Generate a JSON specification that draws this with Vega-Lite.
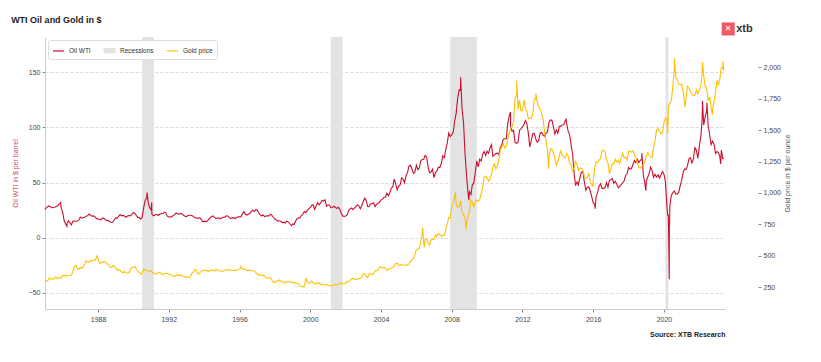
{
"$schema": "https://vega.github.io/schema/vega-lite/v6.json",
"width": 680, "height": 272,
"autosize": {"type": "none"},
"padding": {"left": 45, "top": 37, "right": 96, "bottom": 53},
"background": "white",
"config": {"font": "Liberation Sans", "view": {"stroke": null},
  "axis": {"labelFontSize": 7, "labelColor": "#444", "tickColor": "#888", "domainColor": "#ccc", "titleFontWeight": "normal", "titleFontSize": 7}},
"title": {"text": "WTI Oil and Gold in $", "anchor": "start", "fontSize": 9, "fontWeight": "bold", "color": "#222", "offset": -3},
"datasets": {
"oil": [
{"d":"1985-01","v":25.6},{"d":"1985-02","v":27.3},{"d":"1985-03","v":28.2},{"d":"1985-04","v":28.8},{"d":"1985-05","v":27.9},{"d":"1985-06","v":27.2},{"d":"1985-07","v":27.3},{"d":"1985-08","v":27.8},{"d":"1985-09","v":28.3},{"d":"1985-10","v":29.5},{"d":"1985-11","v":30.8},{"d":"1985-11-20","v":31.8},{"d":"1985-12","v":27.2},
{"d":"1986-01","v":22.9},{"d":"1986-02","v":15.4},{"d":"1986-03","v":12.6},{"d":"1986-03-31","v":10.4},{"d":"1986-04","v":12.8},{"d":"1986-05","v":15.4},{"d":"1986-06","v":13.5},{"d":"1986-07","v":11.6},{"d":"1986-08","v":15.1},{"d":"1986-09","v":14.9},{"d":"1986-10","v":14.9},{"d":"1986-11","v":15.2},{"d":"1986-12","v":16.1},
{"d":"1987-01","v":18.7},{"d":"1987-02","v":17.7},{"d":"1987-03","v":18.3},{"d":"1987-04","v":18.6},{"d":"1987-05","v":19.4},{"d":"1987-06","v":20.0},{"d":"1987-07","v":21.4},{"d":"1987-08","v":20.3},{"d":"1987-09","v":19.5},{"d":"1987-10","v":19.8},{"d":"1987-11","v":18.9},{"d":"1987-12","v":17.3},
{"d":"1988-01","v":17.1},{"d":"1988-02","v":16.7},{"d":"1988-03","v":16.2},{"d":"1988-04","v":17.9},{"d":"1988-05","v":17.4},{"d":"1988-06","v":16.5},{"d":"1988-07","v":15.5},{"d":"1988-08","v":15.5},{"d":"1988-09","v":14.5},{"d":"1988-10","v":13.8},{"d":"1988-11","v":14.0},{"d":"1988-12","v":16.3},
{"d":"1989-01","v":18.0},{"d":"1989-02","v":17.8},{"d":"1989-03","v":19.4},{"d":"1989-04","v":21.0},{"d":"1989-05","v":20.0},{"d":"1989-06","v":20.0},{"d":"1989-07","v":19.6},{"d":"1989-08","v":18.5},{"d":"1989-09","v":19.6},{"d":"1989-10","v":20.1},{"d":"1989-11","v":19.8},{"d":"1989-12","v":21.1},
{"d":"1990-01","v":22.9},{"d":"1990-02","v":22.1},{"d":"1990-03","v":20.4},{"d":"1990-04","v":18.4},{"d":"1990-05","v":18.2},{"d":"1990-06","v":16.9},{"d":"1990-07","v":18.6},{"d":"1990-08","v":27.2},{"d":"1990-09","v":33.7},{"d":"1990-10","v":35.9},{"d":"1990-10-11","v":41.0},{"d":"1990-11","v":32.3},{"d":"1990-12","v":27.3},
{"d":"1991-01","v":25.2},{"d":"1991-01-14","v":32.0},{"d":"1991-01-17","v":21.4},{"d":"1991-02","v":20.5},{"d":"1991-03","v":19.9},{"d":"1991-04","v":20.8},{"d":"1991-05","v":21.2},{"d":"1991-06","v":20.2},{"d":"1991-07","v":21.4},{"d":"1991-08","v":21.7},{"d":"1991-09","v":21.9},{"d":"1991-10","v":23.2},{"d":"1991-11","v":22.5},{"d":"1991-12","v":19.5},
{"d":"1992-01","v":18.8},{"d":"1992-02","v":19.0},{"d":"1992-03","v":18.9},{"d":"1992-04","v":20.2},{"d":"1992-05","v":20.9},{"d":"1992-06","v":22.4},{"d":"1992-07","v":21.8},{"d":"1992-08","v":21.4},{"d":"1992-09","v":21.9},{"d":"1992-10","v":21.7},{"d":"1992-11","v":20.3},{"d":"1992-12","v":19.4},
{"d":"1993-01","v":19.1},{"d":"1993-02","v":20.1},{"d":"1993-03","v":20.3},{"d":"1993-04","v":20.3},{"d":"1993-05","v":19.9},{"d":"1993-06","v":19.1},{"d":"1993-07","v":17.9},{"d":"1993-08","v":18.0},{"d":"1993-09","v":17.5},{"d":"1993-10","v":18.1},{"d":"1993-11","v":16.7},{"d":"1993-12","v":14.5},
{"d":"1994-01","v":15.0},{"d":"1994-02","v":14.8},{"d":"1994-03","v":14.7},{"d":"1994-04","v":16.4},{"d":"1994-05","v":17.9},{"d":"1994-06","v":19.1},{"d":"1994-07","v":19.7},{"d":"1994-08","v":18.4},{"d":"1994-09","v":17.5},{"d":"1994-10","v":17.7},{"d":"1994-11","v":18.1},{"d":"1994-12","v":17.2},
{"d":"1995-01","v":18.0},{"d":"1995-02","v":18.5},{"d":"1995-03","v":18.6},{"d":"1995-04","v":19.9},{"d":"1995-05","v":19.7},{"d":"1995-06","v":18.4},{"d":"1995-07","v":17.3},{"d":"1995-08","v":18.0},{"d":"1995-09","v":18.2},{"d":"1995-10","v":17.4},{"d":"1995-11","v":18.0},{"d":"1995-12","v":19.0},
{"d":"1996-01","v":18.9},{"d":"1996-02","v":19.1},{"d":"1996-03","v":21.4},{"d":"1996-04","v":23.6},{"d":"1996-05","v":21.2},{"d":"1996-06","v":20.4},{"d":"1996-07","v":21.3},{"d":"1996-08","v":21.9},{"d":"1996-09","v":23.9},{"d":"1996-10","v":24.9},{"d":"1996-11","v":23.7},{"d":"1996-12","v":25.4},
{"d":"1997-01","v":25.2},{"d":"1997-02","v":22.2},{"d":"1997-03","v":21.0},{"d":"1997-04","v":19.7},{"d":"1997-05","v":20.8},{"d":"1997-06","v":19.2},{"d":"1997-07","v":19.6},{"d":"1997-08","v":19.9},{"d":"1997-09","v":19.8},{"d":"1997-10","v":21.3},{"d":"1997-11","v":20.2},{"d":"1997-12","v":18.3},
{"d":"1998-01","v":16.7},{"d":"1998-02","v":16.1},{"d":"1998-03","v":15.0},{"d":"1998-04","v":15.4},{"d":"1998-05","v":14.9},{"d":"1998-06","v":13.7},{"d":"1998-07","v":14.1},{"d":"1998-08","v":13.4},{"d":"1998-09","v":15.0},{"d":"1998-10","v":14.4},{"d":"1998-11","v":12.9},{"d":"1998-12","v":11.3},{"d":"1998-12-10","v":10.8},
{"d":"1999-01","v":12.5},{"d":"1999-02","v":12.0},{"d":"1999-03","v":14.7},{"d":"1999-04","v":17.3},{"d":"1999-05","v":17.8},{"d":"1999-06","v":17.9},{"d":"1999-07","v":20.1},{"d":"1999-08","v":21.3},{"d":"1999-09","v":23.9},{"d":"1999-10","v":22.6},{"d":"1999-11","v":25.0},{"d":"1999-12","v":26.1},
{"d":"2000-01","v":27.2},{"d":"2000-02","v":29.4},{"d":"2000-03","v":29.9},{"d":"2000-04","v":25.7},{"d":"2000-05","v":28.8},{"d":"2000-06","v":31.8},{"d":"2000-07","v":29.7},{"d":"2000-08","v":31.3},{"d":"2000-09","v":33.9},{"d":"2000-10","v":33.1},{"d":"2000-11","v":34.4},{"d":"2000-12","v":28.5},
{"d":"2001-01","v":29.6},{"d":"2001-02","v":29.6},{"d":"2001-03","v":27.2},{"d":"2001-04","v":27.4},{"d":"2001-05","v":28.6},{"d":"2001-06","v":27.6},{"d":"2001-07","v":26.5},{"d":"2001-08","v":27.5},{"d":"2001-09","v":25.9},{"d":"2001-10","v":22.2},{"d":"2001-11","v":19.7},{"d":"2001-12","v":19.3},
{"d":"2002-01","v":19.7},{"d":"2002-02","v":20.7},{"d":"2002-03","v":24.4},{"d":"2002-04","v":26.2},{"d":"2002-05","v":27.0},{"d":"2002-06","v":25.5},{"d":"2002-07","v":26.9},{"d":"2002-08","v":28.4},{"d":"2002-09","v":29.7},{"d":"2002-10","v":28.9},{"d":"2002-11","v":26.3},{"d":"2002-12","v":29.4},
{"d":"2003-01","v":32.9},{"d":"2003-02","v":35.9},{"d":"2003-03","v":33.6},{"d":"2003-04","v":28.3},{"d":"2003-05","v":28.1},{"d":"2003-06","v":30.7},{"d":"2003-07","v":30.8},{"d":"2003-08","v":31.6},{"d":"2003-09","v":28.3},{"d":"2003-10","v":30.3},{"d":"2003-11","v":31.1},{"d":"2003-12","v":32.1},
{"d":"2004-01","v":34.3},{"d":"2004-02","v":34.7},{"d":"2004-03","v":36.7},{"d":"2004-04","v":36.7},{"d":"2004-05","v":40.3},{"d":"2004-06","v":38.0},{"d":"2004-07","v":40.7},{"d":"2004-08","v":44.9},{"d":"2004-09","v":46.0},{"d":"2004-10","v":53.1},{"d":"2004-11","v":48.5},{"d":"2004-12","v":43.3},
{"d":"2005-01","v":46.8},{"d":"2005-02","v":48.0},{"d":"2005-03","v":54.3},{"d":"2005-04","v":53.0},{"d":"2005-05","v":49.8},{"d":"2005-06","v":56.3},{"d":"2005-07","v":58.7},{"d":"2005-08","v":65.0},{"d":"2005-09","v":65.6},{"d":"2005-10","v":62.4},{"d":"2005-11","v":58.3},{"d":"2005-12","v":59.4},
{"d":"2006-01","v":65.5},{"d":"2006-02","v":61.6},{"d":"2006-03","v":62.9},{"d":"2006-04","v":69.7},{"d":"2006-05","v":70.9},{"d":"2006-06","v":71.0},{"d":"2006-07","v":74.4},{"d":"2006-08","v":73.1},{"d":"2006-09","v":63.9},{"d":"2006-10","v":58.9},{"d":"2006-11","v":59.4},{"d":"2006-12","v":62.0},
{"d":"2007-01","v":54.5},{"d":"2007-02","v":59.3},{"d":"2007-03","v":60.4},{"d":"2007-04","v":63.9},{"d":"2007-05","v":63.5},{"d":"2007-06","v":67.5},{"d":"2007-07","v":74.1},{"d":"2007-08","v":72.4},{"d":"2007-09","v":79.9},{"d":"2007-10","v":85.8},{"d":"2007-11","v":94.8},{"d":"2007-12","v":91.7},
{"d":"2008-01","v":93.0},{"d":"2008-02","v":95.4},{"d":"2008-03","v":105.4},{"d":"2008-04","v":112.6},{"d":"2008-05","v":125.4},{"d":"2008-06","v":133.9},{"d":"2008-07","v":133.4},{"d":"2008-07-03","v":145.3},{"d":"2008-08","v":116.7},{"d":"2008-09","v":104.1},{"d":"2008-10","v":76.6},{"d":"2008-11","v":57.3},{"d":"2008-12","v":41.1},{"d":"2008-12-19","v":33.9},
{"d":"2009-01","v":41.7},{"d":"2009-02","v":39.1},{"d":"2009-03","v":47.9},{"d":"2009-04","v":49.6},{"d":"2009-05","v":59.0},{"d":"2009-06","v":69.6},{"d":"2009-07","v":64.2},{"d":"2009-08","v":71.1},{"d":"2009-09","v":69.4},{"d":"2009-10","v":75.7},{"d":"2009-11","v":78.0},{"d":"2009-12","v":74.5},
{"d":"2010-01","v":78.3},{"d":"2010-02","v":76.4},{"d":"2010-03","v":81.2},{"d":"2010-04","v":84.3},{"d":"2010-05","v":73.7},{"d":"2010-06","v":75.3},{"d":"2010-07","v":76.3},{"d":"2010-08","v":76.6},{"d":"2010-09","v":75.2},{"d":"2010-10","v":81.9},{"d":"2010-11","v":84.3},{"d":"2010-12","v":89.2},
{"d":"2011-01","v":89.6},{"d":"2011-02","v":89.6},{"d":"2011-03","v":102.9},{"d":"2011-04","v":110.0},{"d":"2011-04-29","v":113.9},{"d":"2011-05","v":101.3},{"d":"2011-06","v":96.3},{"d":"2011-07","v":97.3},{"d":"2011-08","v":86.3},{"d":"2011-09","v":85.5},{"d":"2011-10","v":86.3},{"d":"2011-11","v":97.2},{"d":"2011-12","v":98.6},
{"d":"2012-01","v":100.3},{"d":"2012-02","v":102.2},{"d":"2012-03","v":106.2},{"d":"2012-04","v":103.3},{"d":"2012-05","v":94.7},{"d":"2012-06","v":82.3},{"d":"2012-07","v":87.9},{"d":"2012-08","v":94.1},{"d":"2012-09","v":94.5},{"d":"2012-10","v":89.5},{"d":"2012-11","v":86.5},{"d":"2012-12","v":87.9},
{"d":"2013-01","v":94.8},{"d":"2013-02","v":95.3},{"d":"2013-03","v":92.9},{"d":"2013-04","v":92.0},{"d":"2013-05","v":94.5},{"d":"2013-06","v":95.8},{"d":"2013-07","v":104.6},{"d":"2013-08","v":106.6},{"d":"2013-09","v":106.3},{"d":"2013-10","v":100.5},{"d":"2013-11","v":93.9},{"d":"2013-12","v":97.6},
{"d":"2014-01","v":94.6},{"d":"2014-02","v":100.8},{"d":"2014-03","v":100.8},{"d":"2014-04","v":102.1},{"d":"2014-05","v":102.2},{"d":"2014-06","v":105.8},{"d":"2014-06-20","v":107.3},{"d":"2014-07","v":103.6},{"d":"2014-08","v":96.5},{"d":"2014-09","v":93.2},{"d":"2014-10","v":84.4},{"d":"2014-11","v":75.8},{"d":"2014-12","v":59.3},
{"d":"2015-01","v":47.2},{"d":"2015-02","v":50.6},{"d":"2015-03","v":47.8},{"d":"2015-04","v":54.5},{"d":"2015-05","v":59.3},{"d":"2015-06","v":59.8},{"d":"2015-07","v":50.9},{"d":"2015-08","v":42.9},{"d":"2015-09","v":45.5},{"d":"2015-10","v":46.2},{"d":"2015-11","v":42.4},{"d":"2015-12","v":37.2},
{"d":"2016-01","v":31.7},{"d":"2016-02","v":30.3},{"d":"2016-02-11","v":26.2},{"d":"2016-03","v":37.5},{"d":"2016-04","v":40.8},{"d":"2016-05","v":46.7},{"d":"2016-06","v":48.8},{"d":"2016-07","v":44.7},{"d":"2016-08","v":44.7},{"d":"2016-09","v":45.2},{"d":"2016-10","v":49.8},{"d":"2016-11","v":45.7},{"d":"2016-12","v":52.0},
{"d":"2017-01","v":52.5},{"d":"2017-02","v":53.5},{"d":"2017-03","v":49.3},{"d":"2017-04","v":51.1},{"d":"2017-05","v":48.5},{"d":"2017-06","v":45.2},{"d":"2017-07","v":46.6},{"d":"2017-08","v":48.0},{"d":"2017-09","v":49.8},{"d":"2017-10","v":51.6},{"d":"2017-11","v":56.6},{"d":"2017-12","v":57.9},
{"d":"2018-01","v":63.7},{"d":"2018-02","v":62.2},{"d":"2018-03","v":62.7},{"d":"2018-04","v":66.3},{"d":"2018-05","v":70.0},{"d":"2018-06","v":67.9},{"d":"2018-07","v":71.0},{"d":"2018-08","v":68.1},{"d":"2018-09","v":70.2},{"d":"2018-10","v":70.8},{"d":"2018-10-03","v":76.4},{"d":"2018-11","v":57.0},{"d":"2018-12","v":49.5},{"d":"2018-12-24","v":42.5},
{"d":"2019-01","v":51.4},{"d":"2019-02","v":55.0},{"d":"2019-03","v":58.2},{"d":"2019-04","v":63.9},{"d":"2019-05","v":60.8},{"d":"2019-06","v":54.7},{"d":"2019-07","v":57.4},{"d":"2019-08","v":54.8},{"d":"2019-09","v":57.0},{"d":"2019-10","v":54.0},{"d":"2019-11","v":57.0},{"d":"2019-12","v":59.9},
{"d":"2020-01","v":57.5},{"d":"2020-02","v":50.5},{"d":"2020-03","v":29.2},{"d":"2020-03-18","v":20.4},{"d":"2020-04","v":20.3},{"d":"2020-04-20","v":-37.6},{"d":"2020-04-21","v":10.0},{"d":"2020-04-27","v":12.8},{"d":"2020-05","v":28.6},{"d":"2020-06","v":38.3},{"d":"2020-07","v":40.7},{"d":"2020-08","v":42.3},{"d":"2020-09","v":39.6},{"d":"2020-10","v":39.4},{"d":"2020-11","v":41.0},{"d":"2020-12","v":47.0},
{"d":"2021-01","v":52.0},{"d":"2021-02","v":59.0},{"d":"2021-03","v":62.3},{"d":"2021-04","v":61.7},{"d":"2021-05","v":65.2},{"d":"2021-06","v":71.4},{"d":"2021-07","v":72.5},{"d":"2021-08","v":67.7},{"d":"2021-09","v":71.6},{"d":"2021-10","v":81.5},{"d":"2021-11","v":79.2},{"d":"2021-12","v":71.7},
{"d":"2022-01","v":83.2},{"d":"2022-02","v":91.6},{"d":"2022-03","v":108.5},{"d":"2022-03-08","v":123.7},{"d":"2022-04","v":101.8},{"d":"2022-05","v":109.6},{"d":"2022-06","v":114.8},{"d":"2022-06-08","v":122.1},{"d":"2022-07","v":101.6},{"d":"2022-08","v":93.7},{"d":"2022-09","v":84.3},{"d":"2022-10","v":87.5},{"d":"2022-11","v":84.4},{"d":"2022-12","v":76.4},
{"d":"2023-01","v":78.1},{"d":"2023-02","v":76.8},{"d":"2023-03","v":73.3},{"d":"2023-03-17","v":66.7},{"d":"2023-04","v":79.4},{"d":"2023-05","v":71.6},{"d":"2023-05-22","v":72.0}
],
"gold": [
{"d":"1985-01","v":303},{"d":"1985-02","v":299},{"d":"1985-03","v":304},{"d":"1985-04","v":325},{"d":"1985-05","v":316},{"d":"1985-06","v":317},{"d":"1985-07","v":317},{"d":"1985-08","v":330},{"d":"1985-09","v":323},{"d":"1985-10","v":326},{"d":"1985-11","v":325},{"d":"1985-12","v":322},
{"d":"1986-01","v":345},{"d":"1986-02","v":339},{"d":"1986-03","v":346},{"d":"1986-04","v":340},{"d":"1986-05","v":342},{"d":"1986-06","v":343},{"d":"1986-07","v":348},{"d":"1986-08","v":376},{"d":"1986-09","v":418},{"d":"1986-10","v":423},{"d":"1986-11","v":398},{"d":"1986-12","v":391},
{"d":"1987-01","v":408},{"d":"1987-02","v":401},{"d":"1987-03","v":409},{"d":"1987-04","v":438},{"d":"1987-05","v":460},{"d":"1987-06","v":450},{"d":"1987-07","v":450},{"d":"1987-08","v":461},{"d":"1987-09","v":460},{"d":"1987-10","v":466},{"d":"1987-11","v":466},{"d":"1987-12","v":487},{"d":"1987-12-14","v":500},
{"d":"1988-01","v":477},{"d":"1988-02","v":442},{"d":"1988-03","v":444},{"d":"1988-04","v":452},{"d":"1988-05","v":452},{"d":"1988-06","v":451},{"d":"1988-07","v":437},{"d":"1988-08","v":432},{"d":"1988-09","v":413},{"d":"1988-10","v":406},{"d":"1988-11","v":420},{"d":"1988-12","v":418},
{"d":"1989-01","v":404},{"d":"1989-02","v":388},{"d":"1989-03","v":390},{"d":"1989-04","v":385},{"d":"1989-05","v":371},{"d":"1989-06","v":367},{"d":"1989-07","v":375},{"d":"1989-08","v":365},{"d":"1989-09","v":362},{"d":"1989-10","v":367},{"d":"1989-11","v":394},{"d":"1989-12","v":409},
{"d":"1990-01","v":410},{"d":"1990-02","v":417},{"d":"1990-03","v":393},{"d":"1990-04","v":374},{"d":"1990-05","v":369},{"d":"1990-06","v":352},{"d":"1990-07","v":362},{"d":"1990-08","v":395},{"d":"1990-09","v":389},{"d":"1990-10","v":381},{"d":"1990-11","v":381},{"d":"1990-12","v":378},
{"d":"1991-01","v":384},{"d":"1991-02","v":364},{"d":"1991-03","v":363},{"d":"1991-04","v":358},{"d":"1991-05","v":357},{"d":"1991-06","v":367},{"d":"1991-07","v":368},{"d":"1991-08","v":356},{"d":"1991-09","v":349},{"d":"1991-10","v":359},{"d":"1991-11","v":360},{"d":"1991-12","v":361},
{"d":"1992-01","v":354},{"d":"1992-02","v":354},{"d":"1992-03","v":345},{"d":"1992-04","v":338},{"d":"1992-05","v":337},{"d":"1992-06","v":341},{"d":"1992-07","v":353},{"d":"1992-08","v":340},{"d":"1992-09","v":345},{"d":"1992-10","v":344},{"d":"1992-11","v":335},{"d":"1992-12","v":334},
{"d":"1993-01","v":329},{"d":"1993-02","v":330},{"d":"1993-03","v":330},{"d":"1993-04","v":342},{"d":"1993-05","v":367},{"d":"1993-06","v":372},{"d":"1993-07","v":392},{"d":"1993-08","v":379},{"d":"1993-09","v":355},{"d":"1993-10","v":364},{"d":"1993-11","v":374},{"d":"1993-12","v":383},
{"d":"1994-01","v":387},{"d":"1994-02","v":382},{"d":"1994-03","v":384},{"d":"1994-04","v":377},{"d":"1994-05","v":381},{"d":"1994-06","v":386},{"d":"1994-07","v":385},{"d":"1994-08","v":380},{"d":"1994-09","v":391},{"d":"1994-10","v":389},{"d":"1994-11","v":384},{"d":"1994-12","v":379},
{"d":"1995-01","v":379},{"d":"1995-02","v":377},{"d":"1995-03","v":382},{"d":"1995-04","v":391},{"d":"1995-05","v":385},{"d":"1995-06","v":387},{"d":"1995-07","v":386},{"d":"1995-08","v":383},{"d":"1995-09","v":383},{"d":"1995-10","v":383},{"d":"1995-11","v":386},{"d":"1995-12","v":387},
{"d":"1996-01","v":400},{"d":"1996-02","v":405},{"d":"1996-02-02","v":415},{"d":"1996-03","v":396},{"d":"1996-04","v":393},{"d":"1996-05","v":392},{"d":"1996-06","v":385},{"d":"1996-07","v":383},{"d":"1996-08","v":387},{"d":"1996-09","v":383},{"d":"1996-10","v":381},{"d":"1996-11","v":378},{"d":"1996-12","v":369},
{"d":"1997-01","v":355},{"d":"1997-02","v":347},{"d":"1997-03","v":352},{"d":"1997-04","v":344},{"d":"1997-05","v":344},{"d":"1997-06","v":341},{"d":"1997-07","v":324},{"d":"1997-08","v":324},{"d":"1997-09","v":323},{"d":"1997-10","v":325},{"d":"1997-11","v":306},{"d":"1997-12","v":289},
{"d":"1998-01","v":289},{"d":"1998-02","v":297},{"d":"1998-03","v":296},{"d":"1998-04","v":308},{"d":"1998-05","v":299},{"d":"1998-06","v":292},{"d":"1998-07","v":293},{"d":"1998-08","v":284},{"d":"1998-09","v":289},{"d":"1998-10","v":296},{"d":"1998-11","v":294},{"d":"1998-12","v":291},
{"d":"1999-01","v":287},{"d":"1999-02","v":287},{"d":"1999-03","v":286},{"d":"1999-04","v":282},{"d":"1999-05","v":277},{"d":"1999-06","v":261},{"d":"1999-07","v":256},{"d":"1999-08","v":257},{"d":"1999-08-25","v":252},{"d":"1999-09","v":265},{"d":"1999-10","v":311},{"d":"1999-10-05","v":325},{"d":"1999-11","v":293},{"d":"1999-12","v":283},
{"d":"2000-01","v":284},{"d":"2000-02","v":300},{"d":"2000-03","v":286},{"d":"2000-04","v":280},{"d":"2000-05","v":275},{"d":"2000-06","v":286},{"d":"2000-07","v":282},{"d":"2000-08","v":274},{"d":"2000-09","v":273},{"d":"2000-10","v":270},{"d":"2000-11","v":266},{"d":"2000-12","v":272},
{"d":"2001-01","v":266},{"d":"2001-02","v":262},{"d":"2001-03","v":263},{"d":"2001-04","v":261},{"d":"2001-05","v":272},{"d":"2001-06","v":270},{"d":"2001-07","v":268},{"d":"2001-08","v":273},{"d":"2001-09","v":283},{"d":"2001-10","v":283},{"d":"2001-11","v":276},{"d":"2001-12","v":276},
{"d":"2002-01","v":282},{"d":"2002-02","v":296},{"d":"2002-03","v":294},{"d":"2002-04","v":303},{"d":"2002-05","v":314},{"d":"2002-06","v":322},{"d":"2002-07","v":314},{"d":"2002-08","v":310},{"d":"2002-09","v":319},{"d":"2002-10","v":317},{"d":"2002-11","v":320},{"d":"2002-12","v":333},
{"d":"2003-01","v":357},{"d":"2003-02","v":359},{"d":"2003-03","v":340},{"d":"2003-04","v":328},{"d":"2003-05","v":355},{"d":"2003-06","v":356},{"d":"2003-07","v":351},{"d":"2003-08","v":359},{"d":"2003-09","v":379},{"d":"2003-10","v":379},{"d":"2003-11","v":389},{"d":"2003-12","v":407},
{"d":"2004-01","v":414},{"d":"2004-02","v":405},{"d":"2004-03","v":406},{"d":"2004-04","v":404},{"d":"2004-05","v":384},{"d":"2004-06","v":392},{"d":"2004-07","v":398},{"d":"2004-08","v":401},{"d":"2004-09","v":406},{"d":"2004-10","v":420},{"d":"2004-11","v":439},{"d":"2004-12","v":442},
{"d":"2005-01","v":424},{"d":"2005-02","v":423},{"d":"2005-03","v":434},{"d":"2005-04","v":428},{"d":"2005-05","v":422},{"d":"2005-06","v":430},{"d":"2005-07","v":424},{"d":"2005-08","v":437},{"d":"2005-09","v":456},{"d":"2005-10","v":470},{"d":"2005-11","v":476},{"d":"2005-12","v":510},
{"d":"2006-01","v":549},{"d":"2006-02","v":555},{"d":"2006-03","v":557},{"d":"2006-04","v":610},{"d":"2006-05","v":676},{"d":"2006-05-12","v":725},{"d":"2006-06","v":596},{"d":"2006-06-14","v":567},{"d":"2006-07","v":633},{"d":"2006-08","v":632},{"d":"2006-09","v":599},{"d":"2006-10","v":585},{"d":"2006-11","v":627},{"d":"2006-12","v":629},
{"d":"2007-01","v":631},{"d":"2007-02","v":665},{"d":"2007-03","v":655},{"d":"2007-04","v":679},{"d":"2007-05","v":667},{"d":"2007-06","v":655},{"d":"2007-07","v":665},{"d":"2007-08","v":665},{"d":"2007-09","v":712},{"d":"2007-10","v":754},{"d":"2007-11","v":806},{"d":"2007-12","v":803},
{"d":"2008-01","v":889},{"d":"2008-02","v":923},{"d":"2008-03","v":968},{"d":"2008-03-17","v":1011},{"d":"2008-04","v":909},{"d":"2008-05","v":888},{"d":"2008-06","v":889},{"d":"2008-07","v":940},{"d":"2008-08","v":839},{"d":"2008-09","v":829},{"d":"2008-10","v":806},{"d":"2008-10-24","v":712},{"d":"2008-11","v":760},{"d":"2008-12","v":816},
{"d":"2009-01","v":858},{"d":"2009-02","v":943},{"d":"2009-03","v":924},{"d":"2009-04","v":890},{"d":"2009-05","v":928},{"d":"2009-06","v":946},{"d":"2009-07","v":934},{"d":"2009-08","v":949},{"d":"2009-09","v":996},{"d":"2009-10","v":1043},{"d":"2009-11","v":1127},{"d":"2009-12","v":1135},
{"d":"2010-01","v":1118},{"d":"2010-02","v":1095},{"d":"2010-03","v":1113},{"d":"2010-04","v":1148},{"d":"2010-05","v":1205},{"d":"2010-06","v":1232},{"d":"2010-07","v":1193},{"d":"2010-08","v":1215},{"d":"2010-09","v":1271},{"d":"2010-10","v":1343},{"d":"2010-11","v":1370},{"d":"2010-12","v":1391},
{"d":"2011-01","v":1357},{"d":"2011-02","v":1372},{"d":"2011-03","v":1424},{"d":"2011-04","v":1474},{"d":"2011-05","v":1511},{"d":"2011-06","v":1529},{"d":"2011-07","v":1573},{"d":"2011-08","v":1756},{"d":"2011-09","v":1772},{"d":"2011-09-05","v":1895},{"d":"2011-10","v":1666},{"d":"2011-11","v":1739},{"d":"2011-12","v":1652},
{"d":"2012-01","v":1656},{"d":"2012-02","v":1743},{"d":"2012-03","v":1675},{"d":"2012-04","v":1649},{"d":"2012-05","v":1589},{"d":"2012-06","v":1598},{"d":"2012-07","v":1594},{"d":"2012-08","v":1630},{"d":"2012-09","v":1745},{"d":"2012-10","v":1747},{"d":"2012-10-04","v":1790},{"d":"2012-11","v":1722},{"d":"2012-12","v":1685},
{"d":"2013-01","v":1671},{"d":"2013-02","v":1628},{"d":"2013-03","v":1593},{"d":"2013-04","v":1487},{"d":"2013-05","v":1414},{"d":"2013-06","v":1343},{"d":"2013-06-27","v":1192},{"d":"2013-07","v":1286},{"d":"2013-08","v":1352},{"d":"2013-09","v":1349},{"d":"2013-10","v":1316},{"d":"2013-11","v":1275},{"d":"2013-12","v":1222},
{"d":"2014-01","v":1244},{"d":"2014-02","v":1300},{"d":"2014-03","v":1336},{"d":"2014-04","v":1299},{"d":"2014-05","v":1288},{"d":"2014-06","v":1279},{"d":"2014-07","v":1311},{"d":"2014-08","v":1296},{"d":"2014-09","v":1239},{"d":"2014-10","v":1222},{"d":"2014-11","v":1176},{"d":"2014-12","v":1201},
{"d":"2015-01","v":1251},{"d":"2015-02","v":1227},{"d":"2015-03","v":1179},{"d":"2015-04","v":1198},{"d":"2015-05","v":1199},{"d":"2015-06","v":1182},{"d":"2015-07","v":1131},{"d":"2015-08","v":1117},{"d":"2015-09","v":1125},{"d":"2015-10","v":1159},{"d":"2015-11","v":1086},{"d":"2015-12","v":1068},{"d":"2015-12-17","v":1050},
{"d":"2016-01","v":1097},{"d":"2016-02","v":1200},{"d":"2016-03","v":1246},{"d":"2016-04","v":1242},{"d":"2016-05","v":1260},{"d":"2016-06","v":1276},{"d":"2016-07","v":1337},{"d":"2016-08","v":1341},{"d":"2016-09","v":1326},{"d":"2016-10","v":1267},{"d":"2016-11","v":1238},{"d":"2016-12","v":1152},
{"d":"2017-01","v":1192},{"d":"2017-02","v":1234},{"d":"2017-03","v":1231},{"d":"2017-04","v":1267},{"d":"2017-05","v":1246},{"d":"2017-06","v":1260},{"d":"2017-07","v":1236},{"d":"2017-08","v":1283},{"d":"2017-09","v":1315},{"d":"2017-10","v":1280},{"d":"2017-11","v":1283},{"d":"2017-12","v":1265},
{"d":"2018-01","v":1331},{"d":"2018-02","v":1331},{"d":"2018-03","v":1325},{"d":"2018-04","v":1335},{"d":"2018-05","v":1303},{"d":"2018-06","v":1282},{"d":"2018-07","v":1238},{"d":"2018-08","v":1202},{"d":"2018-09","v":1198},{"d":"2018-10","v":1215},{"d":"2018-11","v":1221},{"d":"2018-12","v":1250},
{"d":"2019-01","v":1292},{"d":"2019-02","v":1320},{"d":"2019-03","v":1300},{"d":"2019-04","v":1286},{"d":"2019-05","v":1284},{"d":"2019-06","v":1359},{"d":"2019-07","v":1413},{"d":"2019-08","v":1500},{"d":"2019-09","v":1510},{"d":"2019-10","v":1495},{"d":"2019-11","v":1471},{"d":"2019-12","v":1480},
{"d":"2020-01","v":1560},{"d":"2020-02","v":1597},{"d":"2020-03","v":1592},{"d":"2020-03-19","v":1474},{"d":"2020-04","v":1683},{"d":"2020-05","v":1715},{"d":"2020-06","v":1732},{"d":"2020-07","v":1846},{"d":"2020-08","v":1968},{"d":"2020-08-06","v":2067},{"d":"2020-09","v":1922},{"d":"2020-10","v":1900},{"d":"2020-11","v":1866},{"d":"2020-12","v":1858},
{"d":"2021-01","v":1867},{"d":"2021-02","v":1808},{"d":"2021-03","v":1718},{"d":"2021-03-08","v":1683},{"d":"2021-04","v":1760},{"d":"2021-05","v":1850},{"d":"2021-06","v":1834},{"d":"2021-07","v":1807},{"d":"2021-08","v":1785},{"d":"2021-09","v":1775},{"d":"2021-10","v":1777},{"d":"2021-11","v":1821},{"d":"2021-12","v":1790},
{"d":"2022-01","v":1817},{"d":"2022-02","v":1856},{"d":"2022-03","v":1948},{"d":"2022-03-08","v":2039},{"d":"2022-04","v":1937},{"d":"2022-05","v":1849},{"d":"2022-06","v":1837},{"d":"2022-07","v":1733},{"d":"2022-08","v":1765},{"d":"2022-09","v":1681},{"d":"2022-09-28","v":1622},{"d":"2022-10","v":1665},{"d":"2022-11","v":1726},{"d":"2022-12","v":1798},
{"d":"2023-01","v":1898},{"d":"2023-02","v":1855},{"d":"2023-03","v":1912},{"d":"2023-04","v":1999},{"d":"2023-05","v":1990},{"d":"2023-05-04","v":2050},{"d":"2023-05-22","v":1972}
],
"rec": [
{"s":"1990-07","e":"1991-03"},{"s":"2001-03","e":"2001-11"},{"s":"2007-12","e":"2009-06"},{"s":"2020-02","e":"2020-04"}
],
"keys": [{"k":"Oil WTI"},{"k":"Recessions"},{"k":"Gold price"}],
"logo": [{"d":"2023-08-20","v":2305,"t":"xtb","i":"✕"}]
},
"layer": [
{
 "layer": [
  {"data": {"name": "rec"}, "mark": {"type": "rect", "color": "#e3e3e3", "opacity": 1},
   "encoding": {
    "x": {"field": "s", "type": "temporal", "scale": {"type": "utc", "domain": ["1985-01-01", "2023-06-15"]},
      "axis": {"format": "%Y", "tickCount": {"interval": "year", "step": 4}, "grid": false, "labelPadding": 3, "tickSize": 3, "domainColor": "#ccc",
       "title": "Source: XTB Research", "titleAnchor": "end", "titleFontWeight": "bold", "titleFontSize": 7, "titleColor": "#222", "titlePadding": 8}},
    "x2": {"field": "e"}
   }},
  {"data": {"name": "keys"}, "mark": {"type": "point", "filled": false, "opacity": 0},
   "encoding": {
    "color": {"field": "k", "type": "nominal",
      "scale": {"domain": ["Oil WTI", "Recessions", "Gold price"], "range": ["#c8102e", "#e3e3e3", "#ffc000"]},
      "legend": {"title": null, "orient": "top-left", "direction": "horizontal", "offset": 3, "padding": 4,
        "strokeColor": "#ddd", "fillColor": "white", "cornerRadius": 2, "labelFontSize": 6.5, "labelColor": "#333",
        "columnPadding": 10, "labelOffset": 4, "symbolSize": 121, "symbolStrokeWidth": 1.2, "symbolOpacity": 1}},
    "shape": {"field": "k", "type": "nominal",
      "scale": {"domain": ["Oil WTI", "Recessions", "Gold price"],
        "range": ["stroke", "M-1.1,-0.36H1.1M-1.1,-0.18H1.1M-1.1,0H1.1M-1.1,0.18H1.1M-1.1,0.36H1.1", "stroke"]},
      "legend": {"title": null, "orient": "top-left", "direction": "horizontal", "offset": 3, "padding": 4,
        "strokeColor": "#ddd", "fillColor": "white", "cornerRadius": 2, "labelFontSize": 6.5, "labelColor": "#333",
        "columnPadding": 10, "labelOffset": 4, "symbolSize": 121, "symbolStrokeWidth": 1.2, "symbolOpacity": 1}}
   }},
  {"data": {"name": "oil"}, "mark": {"type": "line", "strokeWidth": 1.1, "color": "#c8102e"},
   "encoding": {
    "x": {"field": "d", "type": "temporal"},
    "y": {"field": "v", "type": "quantitative", "scale": {"domain": [-64.5, 181.7], "nice": false, "zero": false},
      "axis": {"orient": "left", "values": [-50, 0, 50, 100, 150], "tickCount": 10, "grid": true, "gridDash": [3, 2], "gridColor": "#ccc", "gridWidth": 0.7,
        "tickSize": 3, "labelPadding": 2, "domain": true, "domainColor": "#ccc",
        "title": "Oil WTI in $ per barrel", "titleColor": "#d0485e", "titleFontSize": 7, "titlePadding": 10}}
   }},
  {"data": {"name": "oil"}, "transform": [{"filter": "datum.d == '2023-05-22'"}],
   "mark": {"type": "point", "filled": true, "size": 14, "color": "#c8102e", "opacity": 1},
   "encoding": {"x": {"field": "d", "type": "temporal"}, "y": {"field": "v", "type": "quantitative"}}},
  {"data": {"name": "oil"}, "transform": [{"filter": "datum.d == '2023-05-22'"}],
   "mark": {"type": "text", "align": "left", "dx": 9, "fontSize": 7, "color": "#333"},
   "encoding": {"x": {"field": "d", "type": "temporal"}, "y": {"field": "v", "type": "quantitative"}, "text": {"field": "v", "type": "quantitative", "format": "$.1f"}}}
 ]
},
{
 "layer": [
  {"data": {"name": "gold"}, "mark": {"type": "line", "strokeWidth": 1.1, "color": "#ffc000"},
   "encoding": {
    "x": {"field": "d", "type": "temporal"},
    "y": {"field": "v", "type": "quantitative", "scale": {"domain": [77, 2241], "nice": false, "zero": false},
      "axis": {"orient": "right", "offset": 33, "values": [250, 500, 750, 1000, 1250, 1500, 1750, 2000], "tickCount": 12, "format": ",.0f", "labelOverlap": false, "grid": false, "domain": false,
        "tickSize": 3, "labelPadding": 2, "title": "Gold price in $ per ounce", "titleAngle": 270, "titleColor": "#555", "titleFontSize": 7, "titlePadding": 10}}
   }},
  {"data": {"name": "gold"}, "transform": [{"filter": "datum.d == '2023-05-22'"}],
   "mark": {"type": "point", "filled": true, "size": 14, "color": "#ffc000", "opacity": 1},
   "encoding": {"x": {"field": "d", "type": "temporal"}, "y": {"field": "v", "type": "quantitative"}}},
  {"data": {"name": "gold"}, "transform": [{"filter": "datum.d == '2023-05-22'"}],
   "mark": {"type": "text", "align": "left", "dx": 9, "fontSize": 7, "color": "#333"},
   "encoding": {"x": {"field": "d", "type": "temporal"}, "y": {"field": "v", "type": "quantitative"}, "text": {"field": "v", "type": "quantitative", "format": ",.0f"}}},
  {"data": {"name": "logo"}, "mark": {"type": "square", "filled": true, "size": 170, "color": "#ef5a67", "opacity": 1},
   "encoding": {"x": {"field": "d", "type": "temporal"}, "y": {"field": "v", "type": "quantitative"}}},
  {"data": {"name": "logo"}, "mark": {"type": "text", "fontSize": 8, "fontWeight": "bold", "color": "white", "font": "DejaVu Sans"},
   "encoding": {"x": {"field": "d", "type": "temporal"}, "y": {"field": "v", "type": "quantitative"}, "text": {"field": "i"}}},
  {"data": {"name": "logo"}, "mark": {"type": "text", "align": "left", "dx": 8, "fontSize": 11, "fontWeight": "bold", "color": "#333"},
   "encoding": {"x": {"field": "d", "type": "temporal"}, "y": {"field": "v", "type": "quantitative"}, "text": {"field": "t"}}}
 ]
}
],
"resolve": {"scale": {"y": "independent"}}
}
